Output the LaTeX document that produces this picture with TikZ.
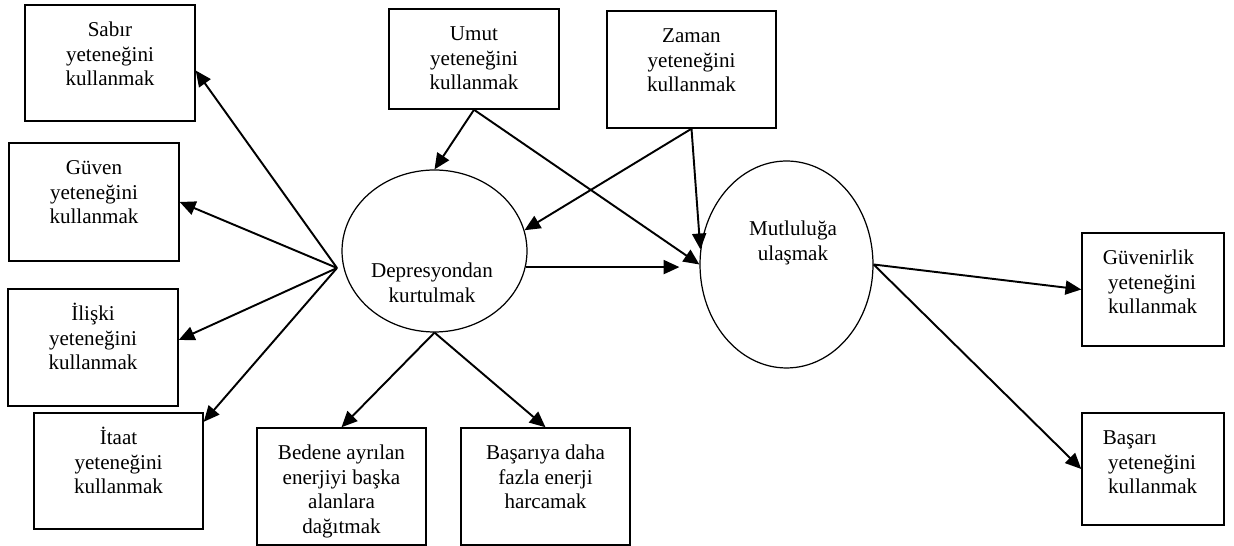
\documentclass[tikz,border=0pt]{standalone}
\usepackage{fontspec}
\setmainfont{Liberation Serif}
\usetikzlibrary{arrows.meta,shapes.geometric}

\begin{document}
\begin{tikzpicture}[
			x=0.02cm,
			y=-0.02cm,
			>={Triangle[length=9pt,width=8pt]},
			lbl/.style={
				anchor=north,
				align=center,
				inner sep=0pt,
				yshift=-0.25cm,
				font=\fontsize{12}{14}\selectfont
			},
			box/.style={
				draw,
				line width=0.85pt,
				inner sep=0pt,
				label={[lbl]north:{\rule{0pt}{11pt}#1}}
			},
			leftbox/.style={
				draw,
				line width=0.85pt,
				inner sep=0pt,
				label={[lbl,align=left,xshift=-0.06cm]north:{\rule{0pt}{11pt}#1}}
			},
			oval/.style={
				ellipse,
				draw,
				line width=0.7pt,
				inner sep=0pt
			},
			link/.style={->,line width=1.1pt}
			]
			
			\useasboundingbox (0,0) rectangle (1234,546);
			
			%%%%%%%%%%%%%%%%%%%%%%%%%%%%%%%%%%%%%%%%%%%%%%%%%%%%%%%%%%%%
			% Main States
			%%%%%%%%%%%%%%%%%%%%%%%%%%%%%%%%%%%%%%%%%%%%%%%%%%%%%%%%%%%%
			
			\node (depresyon) [oval,minimum width=3.7cm,minimum height=3.24cm,
			label={[lbl,xshift=-0.05cm,yshift=-0.34cm]center:{\rule{0pt}{11pt}Depresyondan\\kurtulmak}}]
			at (434.5,251) {};
			
			\node (mutluluk) [oval,minimum width=3.46cm,minimum height=4.14cm,
			label={[lbl,xshift=0.13cm,yshift=0.73cm]center:{\rule{0pt}{11pt}Mutluluğa\\ulaşmak}}]
			at (786.5,264.5) {};
			
			\coordinate (fan) at (337,268);
			
			%%%%%%%%%%%%%%%%%%%%%%%%%%%%%%%%%%%%%%%%%%%%%%%%%%%%%%%%%%%%
			% Left Skills
			%%%%%%%%%%%%%%%%%%%%%%%%%%%%%%%%%%%%%%%%%%%%%%%%%%%%%%%%%%%%
			
			\node (sabir) [box={Sabır\\yeteneğini\\kullanmak},minimum width=3.4cm,minimum height=2.32cm]
			at (110,63) {};
			
			\node (guven) [box={Güven\\yeteneğini\\kullanmak},minimum width=3.4cm,minimum height=2.36cm]
			at (94,202) {};
			
			\node (iliski) [box={İlişki\\yeteneğini\\kullanmak},minimum width=3.4cm,minimum height=2.34cm]
			at (93,347.5) {};
			
			\node (itaat) [box={İtaat\\yeteneğini\\kullanmak},minimum width=3.38cm,minimum height=2.32cm]
			at (118.5,471) {};
			
			%%%%%%%%%%%%%%%%%%%%%%%%%%%%%%%%%%%%%%%%%%%%%%%%%%%%%%%%%%%%
			% Top Skills
			%%%%%%%%%%%%%%%%%%%%%%%%%%%%%%%%%%%%%%%%%%%%%%%%%%%%%%%%%%%%
			
			\node (umut) [box={Umut\\yeteneğini\\kullanmak},minimum width=3.4cm,minimum height=2.0cm]
			at (474,59) {};
			
			\node (zaman) [box={Zaman\\yeteneğini\\kullanmak},minimum width=3.38cm,minimum height=2.34cm]
			at (691.5,69.5) {};
			
			%%%%%%%%%%%%%%%%%%%%%%%%%%%%%%%%%%%%%%%%%%%%%%%%%%%%%%%%%%%%
			% Energy
			%%%%%%%%%%%%%%%%%%%%%%%%%%%%%%%%%%%%%%%%%%%%%%%%%%%%%%%%%%%%
			
			\node (bedene) [box={Bedene ayrılan\\enerjiyi başka\\alanlara\\dağıtmak},minimum width=3.38cm,minimum height=2.34cm]
			at (341.5,486.5) {};
			
			\node (basariya) [box={Başarıya daha\\fazla enerji\\harcamak},minimum width=3.38cm,minimum height=2.34cm]
			at (545.5,486.5) {};
			
			%%%%%%%%%%%%%%%%%%%%%%%%%%%%%%%%%%%%%%%%%%%%%%%%%%%%%%%%%%%%
			% Right Skills
			%%%%%%%%%%%%%%%%%%%%%%%%%%%%%%%%%%%%%%%%%%%%%%%%%%%%%%%%%%%%
			
			\node (guvenirlik) [leftbox={Güvenirlik\\\hspace*{3pt}yeteneğini\\\hspace*{3pt}kullanmak},minimum width=2.84cm,minimum height=2.26cm]
			at (1153,289.5) {};
			
			\node (basari) [leftbox={Başarı\\\hspace*{3pt}yeteneğini\\\hspace*{3pt}kullanmak},minimum width=2.84cm,minimum height=2.24cm]
			at (1153,469) {};
			
			%%%%%%%%%%%%%%%%%%%%%%%%%%%%%%%%%%%%%%%%%%%%%%%%%%%%%%%%%%%%
			% Connections
			%%%%%%%%%%%%%%%%%%%%%%%%%%%%%%%%%%%%%%%%%%%%%%%%%%%%%%%%%%%%
			
			% Left fan
			
			\draw[link] (fan) -- (sabir.-5);
			
			\draw[link] (fan) -- (guven.east);
			
			\draw[link] (fan) -- (iliski.5);
			
			\draw[link] (fan) -- (itaat.30);
			
			% Top
			
			\draw[link] (umut.south) -- (depresyon.north);
			
			\draw[link] (umut.south) -- (mutluluk.west);
			
			\draw[link] (zaman.south) -- (depresyon.13);
			
			\draw[link] (zaman.south) -- (mutluluk.170);
			
			\draw[link,shorten >=0.4cm]
			(depresyon.-10) -- (depresyon.-10 -| mutluluk.west);
			
			% Bottom
			
			\draw[link] (depresyon.south) -- (bedene.north);
			
			\draw[link] (depresyon.south) -- (basariya.north);
			
			% Right
			
			\draw[link] (mutluluk.east) -- (guvenirlik.west);
			
			\draw[link] (mutluluk.east) -- (basari.west);
			
		\end{tikzpicture}
\end{document}
